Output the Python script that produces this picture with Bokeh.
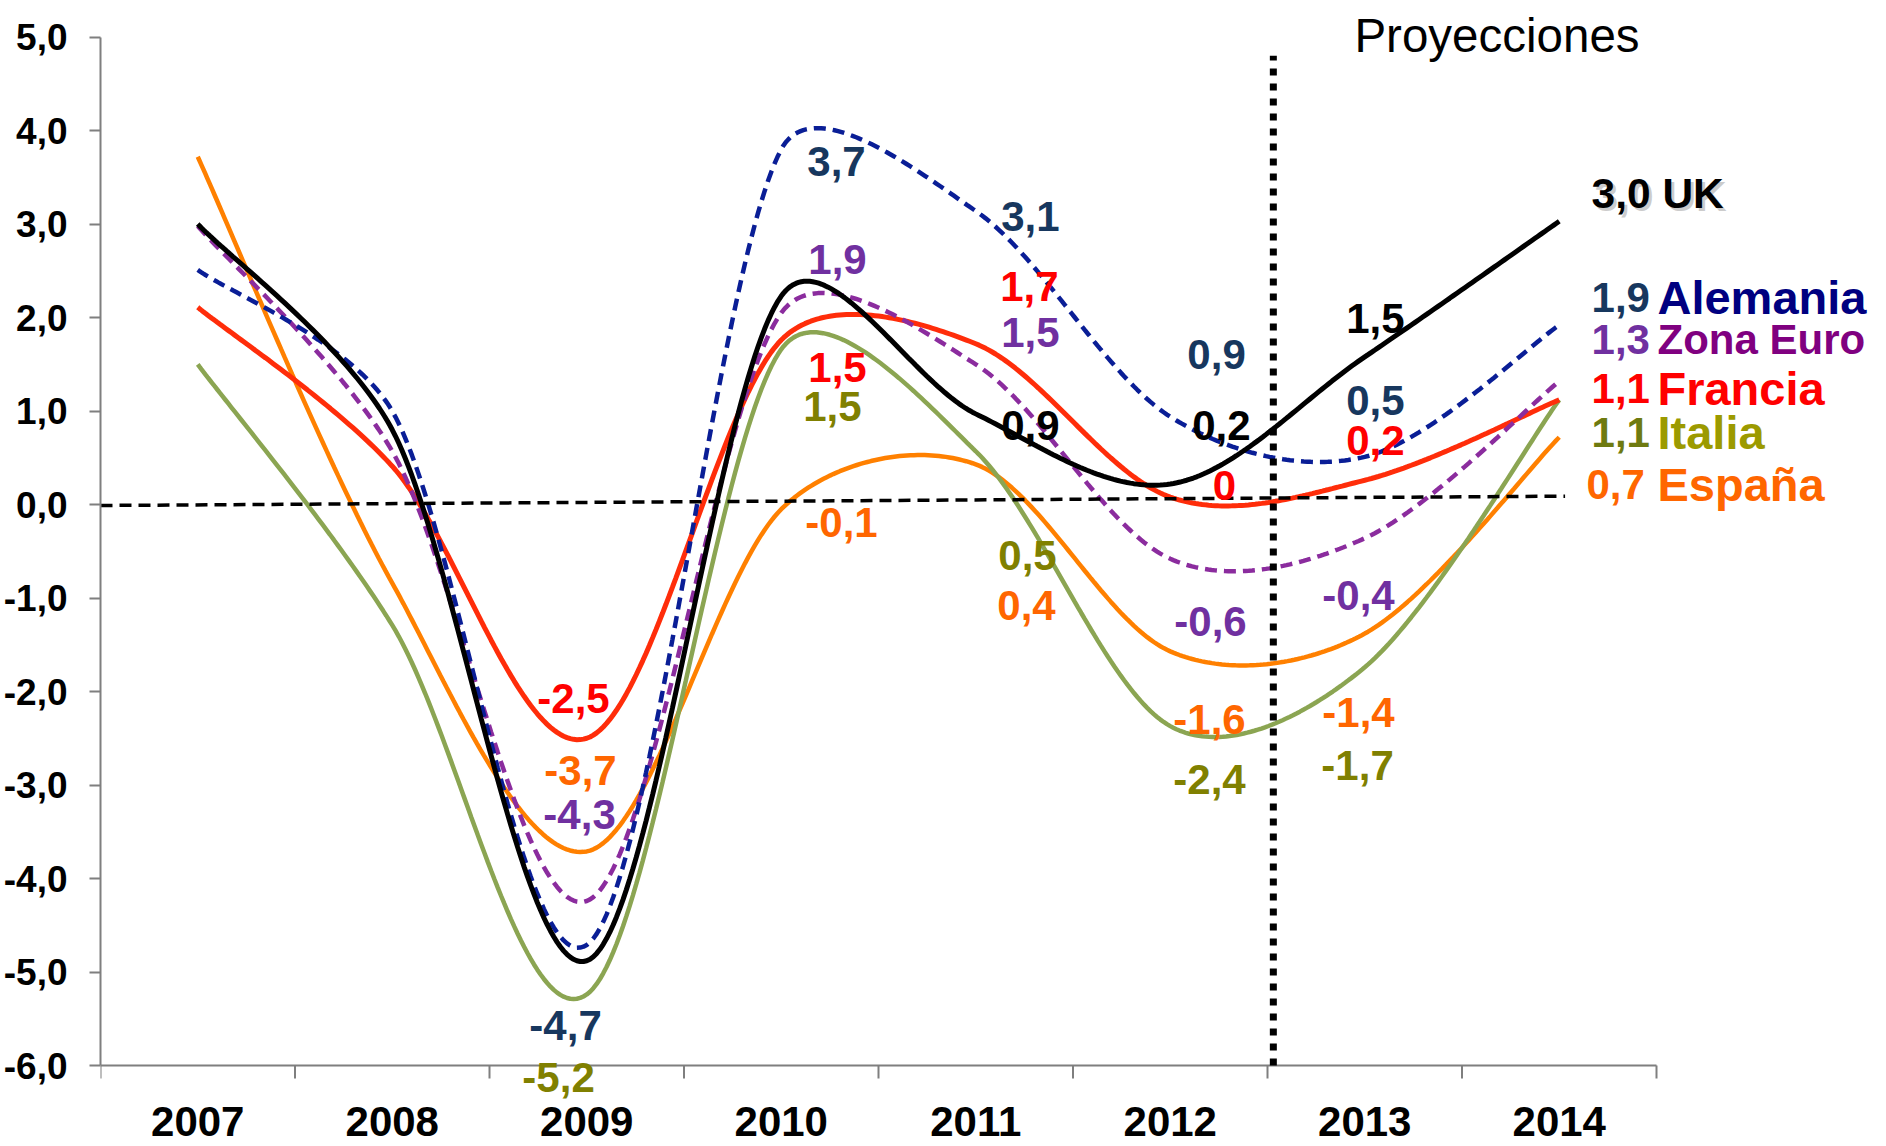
import numpy as np
from bokeh.plotting import figure
from bokeh.models import Range1d, FixedTicker, Label
from bokeh.core.properties import value
from bokeh.embed import file_html
from bokeh.resources import INLINE

# ---------------- data ----------------
years = ["2007", "2008", "2009", "2010", "2011", "2012", "2013", "2014"]
uk        = [3.00, 0.80, -4.88, 2.23, 0.97, 0.22, 1.58, 3.03]
alemania  = [2.51, 1.00, -4.71, 3.80, 3.14, 0.94, 0.51, 1.92]
zona_euro = [2.98, 0.57, -4.24, 2.05, 1.50, -0.58, -0.36, 1.32]
francia   = [2.11, 0.41, -2.50, 1.76, 1.72, 0.08, 0.26, 1.12]
italia    = [1.50, -1.29, -5.24, 1.66, 0.57, -2.37, -1.74, 1.12]
espana    = [3.72, -0.84, -3.71, -0.05, 0.43, -1.57, -1.38, 0.72]

y_ticks = [-6, -5, -4, -3, -2, -1, 0, 1, 2, 3, 4, 5]
baseline_y = [-0.01, 0.09]          # zero reference line (slightly tilted in the original)
projection_x = 5.53                  # separator between actual data and projections
projection_top = 4.80

# point labels: (text, x, y, colour)
point_labels = [
    ("3,7", 3.284, 3.68, "#17375E"),
    ("3,1", 4.281, 3.09, "#17375E"),
    ("1,9", 3.289, 2.63, "#7030A0"),
    ("1,7", 4.276, 2.34, "#FF0000"),
    ("1,5", 4.281, 1.85, "#7030A0"),
    ("1,5", 3.289, 1.48, "#FF0000"),
    ("1,5", 3.263, 1.06, "#808000"),
    ("0,9", 4.281, 0.86, "#000000"),
    ("0,9", 5.238, 1.61, "#17375E"),
    ("0,2", 5.263, 0.86, "#000000"),
    ("0",   5.279, 0.21, "#FF0000"),
    ("-0,1", 3.310, -0.18, "#FF6600"),
    ("0,5", 4.266, -0.54, "#808000"),
    ("0,4", 4.261, -1.07, "#FF6600"),
    ("-0,6", 5.207, -1.24, "#7030A0"),
    ("-1,6", 5.202, -2.29, "#FF6600"),
    ("-2,4", 5.202, -2.93, "#808000"),
    ("1,5", 6.055, 2.00, "#000000"),
    ("0,5", 6.055, 1.12, "#17375E"),
    ("0,2", 6.055, 0.69, "#FF0000"),
    ("-0,4", 5.968, -0.96, "#7030A0"),
    ("-1,4", 5.968, -2.21, "#FF6600"),
    ("-1,7", 5.963, -2.78, "#808000"),
    ("-2,5", 1.932, -2.06, "#FF0000"),
    ("-3,7", 1.968, -2.83, "#FF6600"),
    ("-4,3", 1.963, -3.31, "#7030A0"),
    ("-4,7", 1.891, -5.56, "#17375E"),
    ("-5,2", 1.855, -6.12, "#808000"),
]

# end-of-line legend: (value text, name, y, value colour, name colour, name size)
end_labels = [
    ("1,9", "Alemania", 2.22, "#17375E", "#000080", "47px"),
    ("1,3", "Zona Euro", 1.776, "#7030A0", "#800080", "42px"),
    ("1,1", "Francia", 1.25, "#FF0000", "#FF0000", "47px"),
    ("1,1", "Italia", 0.78, "#6E7A10", "#9C9A00", "47px"),
    ("0,7", "España", 0.22, "#FF6600", "#FF6600", "47px"),
]

FONT = "Liberation Sans"
PX_X = 194.5    # pixels per category
PX_Y = 93.49    # pixels per unit

# ---------------- smoothing (Excel-like cubic Bezier) ----------------
def smooth(ys, n=60):
    xs = np.arange(len(ys), dtype=float)
    P = np.column_stack([xs * PX_X, np.asarray(ys, dtype=float) * PX_Y])   # pixel space
    N = len(P)
    out = []
    for i in range(N - 1):
        p0 = P[i - 1] if i > 0 else P[i]
        p1, p2 = P[i], P[i + 1]
        p3 = P[i + 2] if i + 2 < N else P[i + 1]
        d12 = np.hypot(*(p2 - p1))
        v1 = p2 - p0
        v2 = p3 - p1
        d02 = np.hypot(*v1)
        d13 = np.hypot(*v2)
        cap = d12 / 3.0
        a1 = min(d02 / 6.0, cap)
        a2 = min(d13 / 6.0, cap)
        c1 = p1 + (v1 / d02 * a1 if d02 > 0 else 0)
        c2 = p2 - (v2 / d13 * a2 if d13 > 0 else 0)
        t = np.linspace(0, 1, n)[:, None]
        if i > 0:
            t = t[1:]
        B = ((1 - t) ** 3) * p1 + 3 * ((1 - t) ** 2) * t * c1 + 3 * (1 - t) * t ** 2 * c2 + t ** 3 * p2
        out.append(B)
    B = np.vstack(out)
    return B[:, 0] / PX_X, B[:, 1] / PX_Y

# ---------------- figure ----------------
W, H = 1886, 1146
LEFT = 100
BELOW = 81                     # pixels between y = -6 and the bottom of the figure
y_bottom = y_ticks[0] - BELOW / PX_Y
y_top = y_bottom + H / PX_Y
x_left = -0.5
x_right = x_left + (W - LEFT) / PX_X
p = figure(width=W, height=H, output_backend="svg", toolbar_location=None,
           x_range=Range1d(x_left, x_right), y_range=Range1d(y_bottom, y_top),
           min_border_left=LEFT, min_border_right=0, min_border_top=0, min_border_bottom=0)
p.outline_line_color = None
p.xgrid.visible = False
p.ygrid.visible = False
p.xaxis.visible = False
p.background_fill_color = "white"
p.border_fill_color = "white"

AX = "#7F7F7F"

# y axis
p.yaxis.ticker = FixedTicker(ticks=y_ticks)
p.yaxis.major_label_overrides = {v: f"{v},0" for v in y_ticks}
p.yaxis.bounds = (y_ticks[0], y_ticks[-1])
p.yaxis.major_tick_out = 11
p.yaxis.major_tick_in = 0
p.yaxis.minor_tick_line_color = None
p.yaxis.major_tick_line_color = AX
p.yaxis.major_tick_line_width = 2
p.yaxis.axis_line_color = AX
p.yaxis.axis_line_width = 2
p.yaxis.major_label_text_font = FONT
p.yaxis.major_label_text_font_style = "bold"
p.yaxis.major_label_text_font_size = "37px"
p.yaxis.major_label_text_color = "black"
p.yaxis.major_label_standoff = 22

# x axis drawn at y = -6 (so labels below it are not clipped)
n_cat = len(years)
p.line([-0.5, n_cat - 0.5], [y_ticks[0], y_ticks[0]], line_color=AX, line_width=2)
bounds = [i - 0.5 for i in range(n_cat + 1)]
p.segment(x0=bounds, y0=[y_ticks[0]] * len(bounds), x1=bounds,
          y1=[y_ticks[0] - 13 / PX_Y] * len(bounds), line_color=AX, line_width=2)
p.text(x=list(range(n_cat)), y=[y_ticks[0] - 56 / PX_Y] * n_cat, text=years,
       text_font=value(FONT), text_font_style="bold", text_font_size="42px",
       text_align="center", text_baseline="middle", text_color="black")

# ---------------- series ----------------
series = [
    (espana, "#FF8000", 4.5, "solid"),
    (italia, "#8BA552", 4.5, "solid"),
    (francia, "#FF2D0A", 5, "solid"),
    (zona_euro, "#8B2C9E", 4.5, "12 7"),
    (alemania, "#0A1E96", 4.5, "12 7"),
    (uk, "#000000", 5, "solid"),
]
for ys, col, lw, dash in series:
    sx, sy = smooth(ys)
    p.line(sx, sy, line_color=col, line_width=lw, line_dash=dash)

# zero reference line and projection separator
p.line([-0.5, n_cat - 1 + 0.03], baseline_y, line_color="black", line_width=3.5, line_dash="12 7")
p.line([projection_x, projection_x], [y_ticks[0], projection_top], line_color="black",
       line_width=7, line_dash="7 8")

# ---------------- labels ----------------
DY = -0.01
def add_label(x, y, text, color, size, align="center", style="bold", alpha=1.0, xo=0, yo=0):
    p.add_layout(Label(x=x, y=y + DY, text=text, text_color=color, text_font=FONT,
                       text_font_size=size, text_font_style=style, text_align=align,
                       text_baseline="middle", text_alpha=alpha, x_offset=xo, y_offset=yo))

for text, x, y, col in point_labels:
    add_label(x, y, text, col, "42px")

# end labels
uk_y = 3.335
add_label(7.166, uk_y, "3,0 UK", "#9A9A9A", "42.5px", align="left", alpha=0.5, xo=3, yo=-3)
add_label(7.166, uk_y, "3,0 UK", "#000000", "42.5px", align="left")
for val, name, y, vcol, ncol, nsize in end_labels:
    vx = 7.166 if val != "0,7" else 7.140
    add_label(vx, y, val, vcol, "42px", align="left")
    add_label(7.505, y, name, ncol, nsize, align="left")

add_label(5.947, 5.026, "Proyecciones", "#000000", "47.5px", align="left", style="normal")

open("out.html", "w").write(file_html(p, INLINE))
